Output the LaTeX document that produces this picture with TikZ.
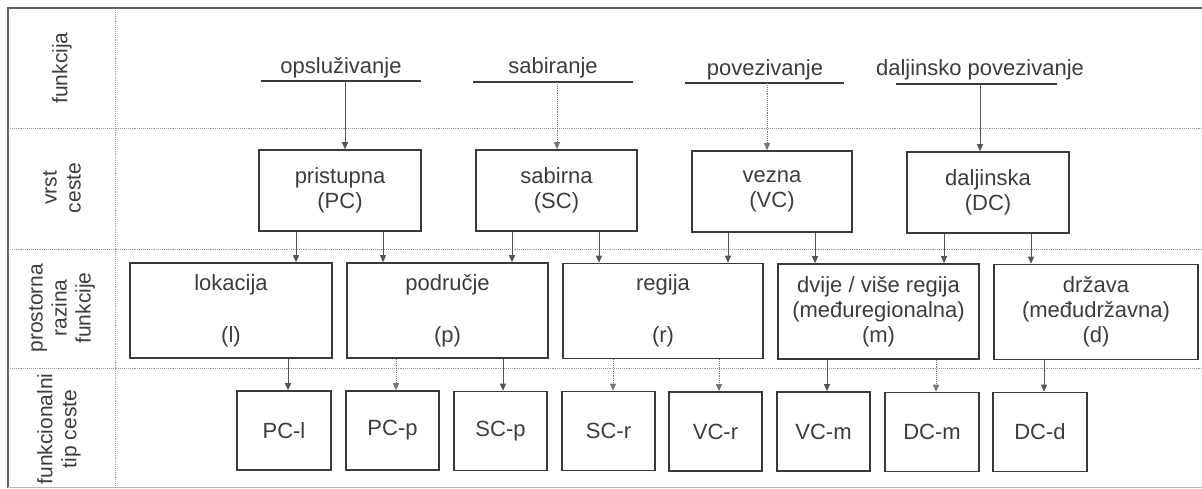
\documentclass[tikz,border=0pt]{standalone}
\usepackage{fontspec}
\setmainfont{Liberation Sans}
\usetikzlibrary{arrows.meta}
\definecolor{txt}{HTML}{3C3C3C}
\definecolor{lnc}{HTML}{3A3A3A}
\definecolor{dotc}{HTML}{9A9A9A}
\definecolor{arc}{HTML}{555555}
\tikzset{
  lbl/.style={text=txt, font=\fontsize{22pt}{25pt}\selectfont, inner sep=0pt, align=center},
  sidelbl/.style={text=txt, font=\fontsize{21pt}{24pt}\selectfont, inner sep=0pt, align=center, rotate=90},
  box/.style={draw=lnc, line width=1.6pt, text=txt, font=\fontsize{22pt}{25pt}\selectfont, align=center, inner sep=0pt},
  uline/.style={draw=lnc, line width=1.4pt},
  arr/.style={draw=arc, line width=0.9pt, -{Triangle[length=7pt,width=6pt]}},
  darr/.style={draw=arc!80, line width=0.9pt, densely dotted, -{Triangle[length=7pt,width=6pt]}},
  grid/.style={draw=dotc, line width=0.9pt, densely dotted},
  frame/.style={draw=lnc!80, line width=2.2pt}
}
\begin{document}
\begin{tikzpicture}[x=1pt,y=-1pt]
\useasboundingbox (0,0) rectangle (1202,488);
% frame and grid
\draw[frame] (1202,8) -- (8,8) -- (8,488);
\draw[draw=dotc!70, line width=0.8pt] (8,487) -- (1202,487);
\draw[grid] (10,128) -- (1202,128);
\draw[grid] (10,249) -- (1202,249);
\draw[grid] (10,368) -- (1202,368);
\draw[grid] (115,10) -- (115,488);
% side labels
\node[sidelbl] (s1) at (62,68) {funkcija};
\node[sidelbl] (s2) at (62,188) {vrst\\ceste};
\node[sidelbl] (s3) at (62,308) {prostorna\\razina\\funkcije};
\node[sidelbl] (s4) at (59,429) {funkcionalni\\tip ceste};
% function labels
\node[lbl] (f1) at (341,68) {opsluživanje};
\node[lbl] (f2) at (553,68) {sabiranje};
\node[lbl] (f3) at (765,70) {povezivanje};
\node[lbl] (f4) at (980,70) {daljinsko povezivanje};
\coordinate (u1a) at (261,81); \coordinate (u1b) at (421,81);
\coordinate (u2a) at (473,82); \coordinate (u2b) at (633,82);
\coordinate (u3a) at (685,83); \coordinate (u3b) at (844,83);
\coordinate (u4a) at (896,84); \coordinate (u4b) at (1057,84);
\draw[uline] (u1a) -- (u1b);
\draw[uline] (u2a) -- (u2b);
\draw[uline] (u3a) -- (u3b);
\draw[uline] (u4a) -- (u4b);
% row 2
\node[box, minimum width=162pt, minimum height=81pt] (pc) at (340,190.5) {pristupna\\(PC)};
\node[box, minimum width=161pt, minimum height=81pt] (sc) at (556.5,190.5) {sabirna\\(SC)};
\node[box, minimum width=160pt, minimum height=81pt] (vc) at (772,191.5) {vezna\\(VC)};
\node[box, minimum width=162pt, minimum height=81pt] (dc) at (988,192.5) {daljinska\\(DC)};
% row 3
\node[box, minimum width=202pt, minimum height=95pt] (lok) at (231,310.5) {lokacija\\[27pt](l)};
\node[box, minimum width=201pt, minimum height=95pt] (pod) at (447.5,310.5) {područje\\[27pt](p)};
\node[box, minimum width=200pt, minimum height=95pt] (reg) at (663,311) {regija\\[27pt](r)};
\node[box, minimum width=201pt, minimum height=95pt] (dvi) at (878.5,311.5) {dvije / više regija\\(međuregionalna)\\(m)};
\node[box, minimum width=204pt, minimum height=95pt] (drz) at (1096,312) {država\\(međudržavna)\\(d)};
% row 4
\node[box, minimum width=94pt, minimum height=79pt] (pcl) at (284,430.5) {PC-l};
\node[box, minimum width=93pt, minimum height=79pt] (pcp) at (392.5,430.5) {PC-p};
\node[box, minimum width=93pt, minimum height=79pt] (scp) at (500.5,431) {SC-p};
\node[box, minimum width=93pt, minimum height=79pt] (scr) at (608.5,431) {SC-r};
\node[box, minimum width=93pt, minimum height=79pt] (vcr) at (715.5,431.5) {VC-r};
\node[box, minimum width=93pt, minimum height=79pt] (vcm) at (823.5,431.5) {VC-m};
\node[box, minimum width=94pt, minimum height=79pt] (dcm) at (932,432) {DC-m};
\node[box, minimum width=94pt, minimum height=79pt] (dcd) at (1040,432) {DC-d};
% function -> road type
\coordinate (a1) at (345,81); \coordinate (a2) at (557,82);
\coordinate (a3) at (767,83); \coordinate (a4) at (980,84);
\draw[arr] (a1) -- (a1 |- pc.north);
\draw[darr] (a2) -- (a2 |- sc.north);
\draw[darr] (a3) -- (a3 |- vc.north);
\draw[arr] (a4) -- (a4 |- dc.north);
% road type -> spatial level -> functional type
\foreach \s/\t/\x/\st in {pc/lok/296/arr, pc/pod/383/arr, sc/pod/512/arr, sc/reg/599/arr,
    vc/reg/728/arr, vc/dvi/815/arr, dc/dvi/944/arr, dc/drz/1031/arr,
    lok/pcl/288/arr, pod/pcp/396/darr, pod/scp/503/arr, reg/scr/613/darr, reg/vcr/719/darr,
    dvi/vcm/827/arr, dvi/dcm/936/darr, drz/dcd/1044/arr}{
  \coordinate (cx) at (\x,0);
  \draw[\st] (\s.south -| cx) -- (\t.north -| cx);
}
\end{tikzpicture}
\end{document}
